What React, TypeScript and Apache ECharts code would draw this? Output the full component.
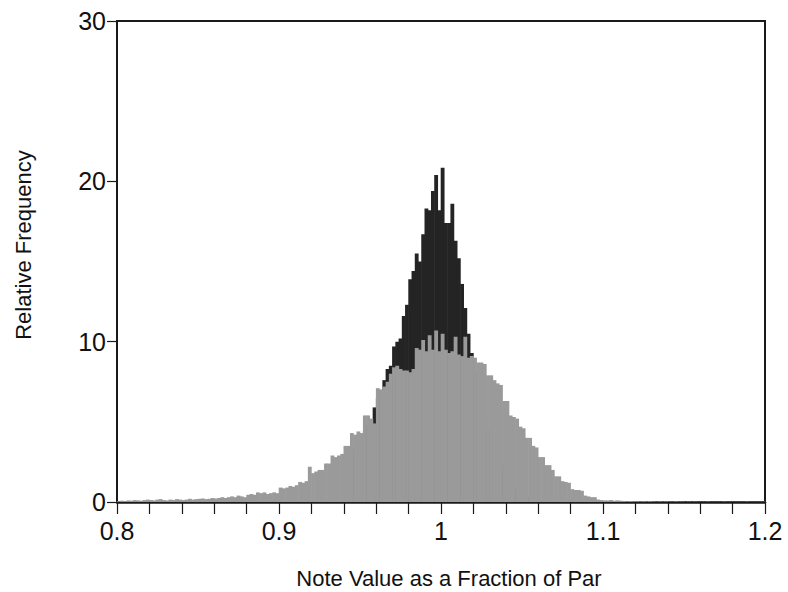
import React, { useEffect, useRef } from "react";
import * as echarts from "echarts";

// Histogram bins: width 0.002, gray series from 0.800, black series from 0.940
const BIN_WIDTH = 0.002;
const GRAY_START = 0.8;
const BLACK_START = 0.94;

const grayFreq: number[] = [
  0.05, 0.08, 0.06, 0.1, 0.08, 0.12, 0.1, 0.08, 0.12, 0.15,
  0.12, 0.1, 0.15, 0.18, 0.12, 0.1, 0.15, 0.12, 0.18, 0.15,
  0.12, 0.15, 0.2, 0.15, 0.18, 0.2, 0.22, 0.18, 0.2, 0.25,
  0.22, 0.25, 0.3, 0.25, 0.3, 0.35, 0.3, 0.4, 0.35, 0.3,
  0.45, 0.5, 0.45, 0.6, 0.55, 0.6, 0.5, 0.55, 0.6, 0.55,
  0.9, 0.85, 0.9, 1.0, 0.95, 1.05, 1.25, 1.2, 1.3, 2.2,
  1.8, 1.9, 2.0, 2.0, 2.4, 2.4, 2.9, 2.8, 2.9, 3.0,
  3.5, 3.5, 4.3, 4.2, 4.4, 4.3, 5.4, 5.4, 5.2, 4.9,
  7.1, 7.0, 7.2, 7.5, 8.0, 8.4, 8.5, 8.3, 8.2, 8.2,
  8.1, 8.3, 9.6, 9.5, 10.1, 9.4, 10.4, 9.5, 10.7, 9.4,
  10.5, 9.5, 9.3, 9.4, 10.3, 9.2, 9.1, 10.3, 9.0, 9.1,
  9.0, 8.7, 8.7, 8.6, 7.9, 7.9, 7.6, 7.4, 7.3, 6.3,
  6.3, 5.4, 5.3, 5.2, 4.7, 4.6, 4.0, 4.0, 3.5, 3.4,
  2.8, 2.8, 2.3, 2.3, 2.0, 1.6, 1.6, 1.3, 1.25, 1.2,
  0.8, 0.75, 0.75, 0.7, 0.4, 0.35, 0.3, 0.3, 0.15, 0.12,
  0.1, 0.1, 0.12, 0.08, 0.1, 0.08, 0.06, 0.05, 0.06, 0.05,
  0.05, 0.04, 0.05, 0.04, 0.05, 0.04, 0.03, 0.04, 0.03, 0.04,
  0.03, 0.03, 0.04, 0.03, 0.03, 0.02, 0.03, 0.02, 0.03, 0.02,
  0.02, 0.02, 0.03, 0.02, 0.02, 0.02, 0.02, 0.03, 0.02, 0.02,
  0.02, 0.02, 0.02, 0.02, 0.03, 0.02, 0.02, 0.02, 0.02, 0.02,
];

const blackFreq: number[] = [
  2.0, 2.5, 3.0, 3.4, 3.8, 4.1, 4.5, 4.8, 5.0, 5.9,
  6.5, 7.0, 7.6, 8.3, 8.5, 9.7, 10.0, 10.2, 11.6, 12.3,
  13.9, 14.4, 15.5, 15.0, 16.7, 18.3, 18.2, 19.4, 20.4, 18.2,
  20.85, 17.4, 17.4, 18.6, 16.3, 15.2, 13.6, 12.1, 10.5, 9.3,
  8.2, 7.0, 6.0, 5.2, 4.5, 3.9, 3.3, 2.8, 2.3, 1.9,
  1.5, 1.2, 0.9, 0.7, 0.5, 0.4, 0.3, 0.2, 0.15, 0.1,
];

const xTickLabels: Record<string, string> = {
  "0.8": "0.8",
  "0.9": "0.9",
  "1": "1",
  "1.1": "1.1",
  "1.2": "1.2",
};

const FONT = "'Liberation Sans', Arial, Helvetica, sans-serif";

function toPairs(start: number, vals: number[]) {
  return vals.map((v, i) => [+(start + i * BIN_WIDTH).toFixed(4), v]);
}

function makeRender(color: string) {
  return (params: any, api: any) => {
    const x0 = api.value(0);
    const v = api.value(1);
    const p0 = api.coord([x0, v]);
    const p1 = api.coord([x0 + BIN_WIDTH, 0]);
    return {
      type: "rect",
      shape: {
        x: p0[0] - 0.3,
        y: p0[1],
        width: p1[0] - p0[0] + 0.6,
        height: p1[1] - p0[1],
      },
      style: { fill: color },
    };
  };
}

export default function App() {
  const ref = useRef<HTMLDivElement>(null);
  useEffect(() => {
    if (!ref.current) return;
    const chart = echarts.init(ref.current, undefined, { renderer: "svg" });
    chart.setOption({
      animation: false,
      backgroundColor: "#ffffff",
      grid: {
        left: 117,
        right: 23,
        top: 21,
        bottom: 90,
        show: true,
        borderColor: "#1a1a1a",
        borderWidth: 2,
        backgroundColor: "transparent",
      },
      xAxis: {
        type: "value",
        min: 0.8,
        max: 1.2,
        interval: 0.1,
        axisLine: { show: true, lineStyle: { color: "#1a1a1a", width: 2.5 } },
        axisTick: { show: true, inside: false, length: 12, lineStyle: { color: "#1a1a1a", width: 1.2 } },
        minorTick: { show: true, splitNumber: 5, length: 12, lineStyle: { color: "#1a1a1a", width: 1.2 } },
        splitLine: { show: false },
        axisLabel: {
          color: "#111",
          fontFamily: FONT,
          fontSize: 25,
          margin: 16,
          formatter: (v: number) => {
            const key = String(+v.toFixed(2));
            return xTickLabels[key] ?? "";
          },
        },
      },
      yAxis: {
        type: "value",
        min: 0,
        max: 30,
        interval: 10,
        axisLine: { show: true, lineStyle: { color: "#1a1a1a", width: 1.5 } },
        axisTick: { show: true, inside: false, length: 10, lineStyle: { color: "#1a1a1a", width: 1.2 } },
        splitLine: { show: false },
        axisLabel: { color: "#111", fontFamily: FONT, fontSize: 25, margin: 11 },
      },
      graphic: [
        {
          type: "text",
          x: 449,
          y: 578,
          style: {
            text: "Note Value as a Fraction of Par",
            fontFamily: FONT,
            fontSize: 22,
            fill: "#111",
            textAlign: "center",
            textVerticalAlign: "middle",
          },
        },
        {
          type: "text",
          x: 23,
          y: 245,
          rotation: Math.PI / 2,
          style: {
            text: "Relative Frequency",
            fontFamily: FONT,
            fontSize: 22,
            fill: "#111",
            textAlign: "center",
            textVerticalAlign: "middle",
          },
        },
      ],
      series: [
        {
          type: "custom",
          name: "black",
          renderItem: makeRender("#242424"),
          data: toPairs(BLACK_START, blackFreq),
          encode: { x: 0, y: 1 },
          z: 2,
        },
        {
          type: "custom",
          name: "gray",
          renderItem: makeRender("#9a9a9a"),
          data: toPairs(GRAY_START, grayFreq),
          encode: { x: 0, y: 1 },
          z: 3,
        },
      ],
    });
    return () => chart.dispose();
  }, []);
  return (
    <div
      ref={ref}
      style={{ position: "fixed", left: 0, top: 0, width: 788, height: 592 }}
    />
  );
}
